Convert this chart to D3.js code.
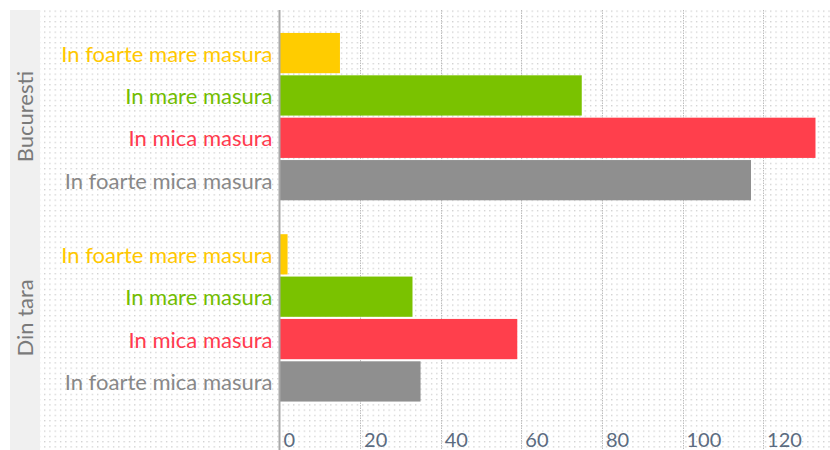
<!DOCTYPE html>
<html>
<head>
    <meta charset="utf-8">
    <title>In ce masura - Bucuresti / Din tara</title>
    <script src="https://d3js.org/d3.v7.min.js"></script>
    <style>
        body { margin: 0; background: #fff; }
        .cat-label { font-family: Lato, "Open Sans", sans-serif; font-size: 22px; text-anchor: end; dominant-baseline: central; }
        .group-label { font-family: Lato, "Open Sans", sans-serif; font-size: 22px; fill: #7a7a7a; text-anchor: middle; }
        .tick-label { font-family: Lato, "Open Sans", sans-serif; font-size: 20px; fill: #5b6b80; }
        .grid line { stroke: #bdbdbd; stroke-width: 1; stroke-dasharray: 1.5,1; }
    </style>
</head>
<body>
<div id="chart"></div>
<script>
    // grupuri si categorii
    const groups = ["Bucuresti", "Din tara"];
    const categories = ["In foarte mare masura", "In mare masura", "In mica masura", "In foarte mica masura"];
    const colors = ["#ffcc00", "#7ac200", "#ff3f4c", "#8f8f8f"];
    const labelColors = ["#ffc800", "#72bd00", "#ff3a4e", "#888888"];

    // valori
    const bucurestiValues = [15, 75, 133, 117];
    const dinTaraValues = [2, 33, 59, 35];
    const tickValues = [0, 20, 40, 60, 80, 100, 120];

    const W = 830, H = 450;
    const plotTop = 10, plotLeft = 40, stripLeft = 10;
    const x0 = 279.5;

    const svg = d3.select("#chart").append("svg")
        .attr("width", W)
        .attr("height", H);

    // fundal punctat
    const defs = svg.append("defs");
    const pat = defs.append("pattern")
        .attr("id", "dots")
        .attr("patternUnits", "userSpaceOnUse")
        .attr("width", 5.3)
        .attr("height", 5.25)
        .attr("x", 44)
        .attr("y", 10.5);
    pat.append("rect").attr("width", 5.3).attr("height", 5.25).attr("fill", "#ffffff");
    pat.append("rect").attr("x", 0).attr("y", 0).attr("width", 1.3).attr("height", 1.3).attr("fill", "#cfcfcf");

    svg.append("rect")
        .attr("x", stripLeft).attr("y", plotTop)
        .attr("width", plotLeft - stripLeft).attr("height", H - plotTop)
        .attr("fill", "#f0f0f0");
    svg.append("rect")
        .attr("x", plotLeft).attr("y", plotTop)
        .attr("width", W - plotLeft).attr("height", H - plotTop)
        .attr("fill", "url(#dots)");

    // scale
    const xScale = d3.scaleLinear()
        .domain([0, 140])
        .range([x0, x0 + 140 * 4.03]);

    const yGroup = d3.scaleBand()
        .domain(groups)
        .range([16, 418.5])
        .padding(0);

    const yCat = d3.scaleBand()
        .domain(categories)
        .range([0, yGroup.bandwidth()])
        .paddingInner(0.05)
        .paddingOuter(0.4);

    // linii de grila
    svg.append("g")
        .attr("class", "grid")
        .selectAll("line")
        .data(tickValues.filter(d => d > 0))
        .join("line")
        .attr("x1", d => Math.round(xScale(d)) + 0.5)
        .attr("x2", d => Math.round(xScale(d)) + 0.5)
        .attr("y1", plotTop)
        .attr("y2", H);

    const data = [];
    groups.forEach((g, gi) => {
        const vals = gi === 0 ? bucurestiValues : dinTaraValues;
        categories.forEach((c, ci) => {
            data.push({ group: g, cat: c, value: vals[ci], ci: ci });
        });
    });

    // bare
    svg.append("g")
        .selectAll("rect")
        .data(data)
        .join("rect")
        .attr("x", xScale(0))
        .attr("y", d => yGroup(d.group) + yCat(d.cat))
        .attr("width", d => xScale(d.value) - xScale(0))
        .attr("height", yCat.bandwidth())
        .attr("fill", d => colors[d.ci]);

    // etichete categorii
    svg.append("g")
        .selectAll("text")
        .data(data)
        .join("text")
        .attr("class", "cat-label")
        .attr("x", xScale(0) - 7)
        .attr("y", d => yGroup(d.group) + yCat(d.cat) + yCat.bandwidth() / 2)
        .attr("fill", d => labelColors[d.ci])
        .text(d => d.cat);

    // axa verticala
    svg.append("line")
        .attr("x1", x0).attr("x2", x0)
        .attr("y1", plotTop).attr("y2", H)
        .attr("stroke", "#a9a9a9")
        .attr("stroke-width", 2);

    // etichete grupuri
    svg.append("g")
        .selectAll("text")
        .data(groups)
        .join("text")
        .attr("class", "group-label")
        .attr("transform", d => `translate(${(stripLeft + plotLeft) / 2 + 8},${yGroup(d) + yGroup.bandwidth() / 2}) rotate(-90)`)
        .text(d => d);

    // etichete axa X
    svg.append("g")
        .selectAll("text")
        .data(tickValues)
        .join("text")
        .attr("class", "tick-label")
        .attr("x", d => xScale(d) + 4)
        .attr("y", 447)
        .text(d => d);
</script>
</body>
</html>
